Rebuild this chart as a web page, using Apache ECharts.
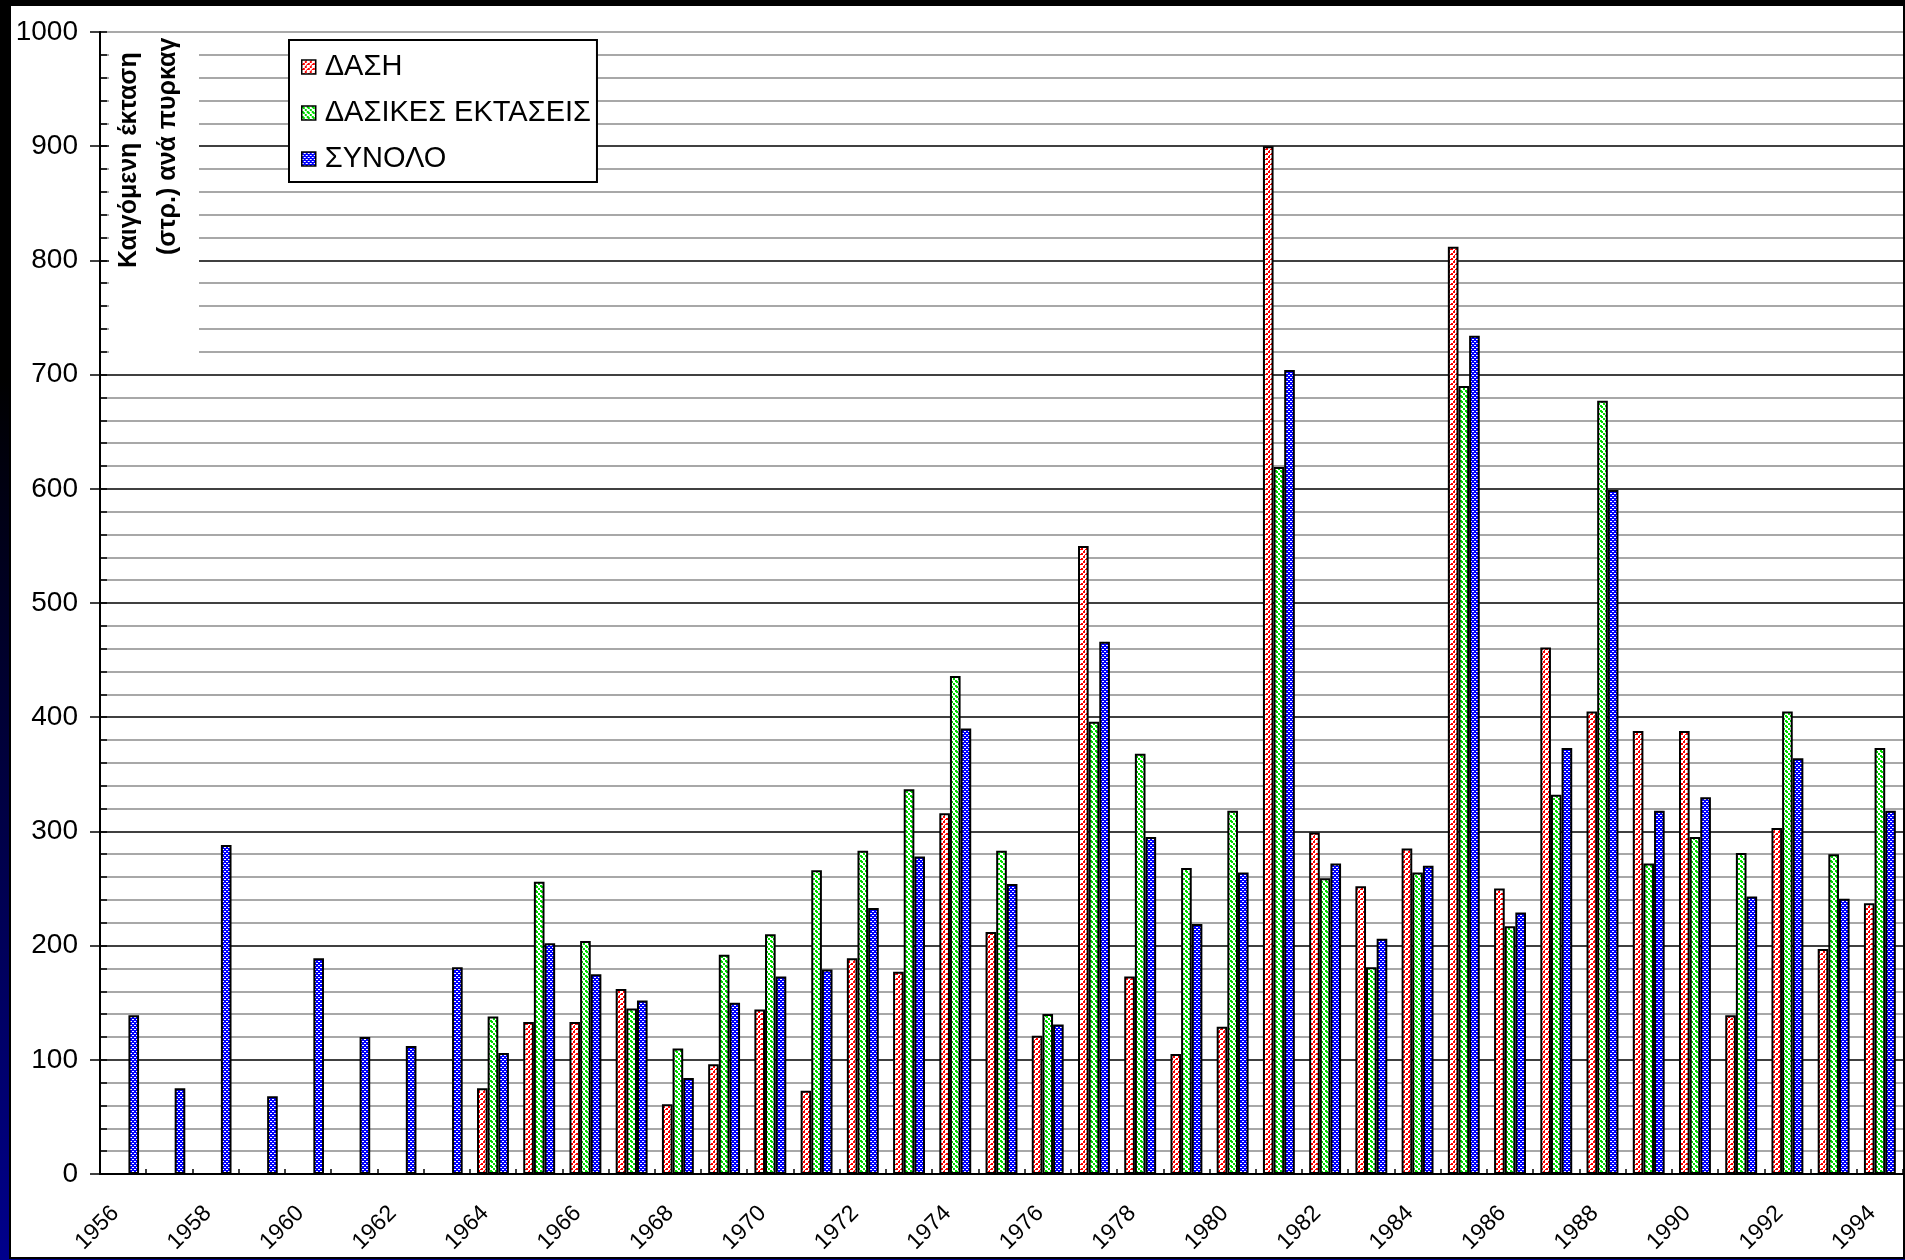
<!DOCTYPE html>
<html>
<head>
<meta charset="utf-8">
<title>Καιγόμενη έκταση ανά πυρκαγιά</title>
<script src="https://cdn.jsdelivr.net/npm/echarts@6.0.0/dist/echarts.min.js"></script>
<style>
  html, body { margin: 0; padding: 0; }
  body {
    width: 1905px; height: 1260px; overflow: hidden; position: relative;
    background: linear-gradient(to bottom, #000 0%, #000 30%, #00008c 100%);
  }
  .frame {
    position: absolute; left: 9px; top: 4px; width: 1896px; height: 1255px;
    box-sizing: border-box; border: 2px solid #000; background: #fff;
  }
  #chart { position: absolute; left: 0; top: 0; width: 1905px; height: 1260px; }
</style>
</head>
<body>
<div class="frame"></div>
<div id="chart"></div>
<script>
var years = ["1956", "1957", "1958", "1959", "1960", "1961", "1962", "1963", "1964", "1965",
  "1966", "1967", "1968", "1969", "1970", "1971", "1972", "1973", "1974", "1975",
  "1976", "1977", "1978", "1979", "1980", "1981", "1982", "1983", "1984", "1985",
  "1986", "1987", "1988", "1989", "1990", "1991", "1992", "1993", "1994"];

var seriesNames = ["ΔΑΣΗ", "ΔΑΣΙΚΕΣ ΕΚΤΑΣΕΙΣ", "ΣΥΝΟΛΟ"];

// ΔΑΣΗ
var dasi = [null, null, null, null, null, null, null, null, 75, 133,
  133, 162, 61, 96, 144, 73, 189, 177, 316, 212,
  121, 550, 173, 105, 129, 900, 299, 252, 285, 812,
  250, 461, 405, 388, 388, 139, 303, 197, 237];

// ΔΑΣΙΚΕΣ ΕΚΤΑΣΕΙΣ
var dasikes = [null, null, null, null, null, null, null, null, 138, 256,
  204, 145, 110, 192, 210, 266, 283, 337, 436, 283,
  140, 396, 368, 268, 318, 619, 259, 181, 264, 690,
  217, 332, 677, 272, 295, 281, 405, 280, 373];

// ΣΥΝΟΛΟ
var synolo = [139, 75, 288, 68, 189, 120, 112, 181, 106, 202,
  175, 152, 84, 150, 173, 179, 233, 278, 390, 254,
  131, 466, 295, 219, 264, 704, 272, 206, 270, 734,
  229, 373, 599, 318, 330, 243, 364, 241, 318];

var yMin = 0, yMax = 1000, yStep = 100, yMinorStep = 20;

var axisTitle = ["Καιγόμενη έκταση", "(στρ.) ανά πυρκαγιά"];

var FONT = '"Liberation Sans", Arial, sans-serif';
var TITLE_FONT = 'bold 25px ' + FONT;

// μοτίβα γεμίσματος (σαν τα pattern του Excel)
function diagPattern(color, up) {
  var n = 5;
  var c = document.createElement('canvas');
  c.width = n; c.height = n;
  var g = c.getContext('2d');
  g.fillStyle = '#fff';
  g.fillRect(0, 0, n, n);
  g.fillStyle = color;
  [0, 1, 3, 4].forEach(function (k) {
    var y = up ? n - 1 - k : k;
    g.fillRect(k, y, 2, 2);
  });
  return { image: c, repeat: 'repeat' };
}
function dotPattern(color) {
  var c = document.createElement('canvas');
  c.width = 4; c.height = 4;
  var g = c.getContext('2d');
  g.fillStyle = '#fff';
  g.fillRect(0, 0, 4, 4);
  g.fillStyle = color;
  g.fillRect(0, 0, 2, 3);
  g.fillRect(2, 2, 2, 2);
  g.fillRect(2, 0, 2, 1);
  return { image: c, repeat: 'repeat' };
}

var fills = [diagPattern('#ff0000', true), diagPattern('#00dd00', false), dotPattern('#0000ff')];
var values = [dasi, dasikes, synolo];

// η γραμμή στο 1000 είναι γκρι, οι υπόλοιπες μαύρες
var majorColors = [];
for (var v = yMin; v < yMax; v += yStep) majorColors.push('#000');
majorColors.push('#8c8c8c');

var myChart = echarts.init(document.getElementById('chart'));

var option = {
  animation: false,
  backgroundColor: 'transparent',
  textStyle: { fontFamily: FONT },
  grid: { left: 100, right: 2, top: 32, bottom: 86, containLabel: false, outerBoundsMode: 'none' },
  legend: {
    orient: 'vertical',
    left: 289,
    top: 40,
    padding: [12, 6, 8, 12],
    backgroundColor: '#fff',
    borderColor: '#000',
    borderWidth: 2,
    borderRadius: 0,
    itemWidth: 14,
    itemHeight: 14,
    itemGap: 16,
    icon: 'rect',
    itemStyle: { borderColor: '#000', borderWidth: 1.5 },
    textStyle: { fontFamily: FONT, fontSize: 29, color: '#000', lineHeight: 30, padding: [0, 0, 0, 4] },
    data: seriesNames
  },
  xAxis: {
    type: 'category',
    data: years,
    boundaryGap: true,
    axisLine: { show: true, lineStyle: { color: '#000', width: 2 } },
    axisTick: { show: true, interval: 0, inside: true, length: 5, lineStyle: { color: '#000', width: 1.5 } },
    axisLabel: {
      interval: 1,
      rotate: 45,
      fontFamily: FONT,
      fontSize: 23,
      color: '#000',
      margin: 28,
      padding: [0, 11, 0, 0]
    },
    splitLine: { show: false }
  },
  yAxis: [
    {
      type: 'value',
      min: yMin,
      max: yMax,
      interval: yStep,
      z: 1,
      axisLine: { show: true, lineStyle: { color: '#000', width: 2 } },
      axisTick: { show: true, inside: false, length: 10, lineStyle: { color: '#000', width: 1.5 } },
      axisLabel: {
        fontFamily: FONT, fontSize: 28, color: '#000', margin: 22,
        formatter: function (val) { return String(val); }
      },
      splitLine: { show: true, lineStyle: { color: majorColors, width: 1.5 } },
      minorTick: { show: false, splitNumber: yStep / yMinorStep },
      minorSplitLine: { show: true, lineStyle: { color: '#8c8c8c', width: 1.5 } }
    },
    {
      // μόνο για τα μικρά tick μέσα στον άξονα
      type: 'value',
      position: 'left',
      offset: 0,
      min: yMin,
      max: yMax,
      interval: yMinorStep,
      z: 2,
      axisLine: { show: false },
      axisTick: { show: true, inside: true, length: 7, lineStyle: { color: '#000', width: 1.5 } },
      axisLabel: { show: false },
      splitLine: { show: false }
    }
  ],
  series: values.map(function (d, i) {
    return {
      name: seriesNames[i],
      type: 'bar',
      data: d,
      yAxisIndex: 0,
      barGap: '0%',
      barCategoryGap: '31%',
      itemStyle: { color: fills[i], borderColor: '#000', borderWidth: 2 },
      emphasis: { disabled: true }
    };
  }),
  graphic: [
    {
      // λευκό πλαίσιο του τίτλου του άξονα
      type: 'rect',
      z: 50,
      silent: true,
      shape: { x: 109, y: 34, width: 90, height: 322 },
      style: { fill: '#fff' }
    }
  ]
};

myChart.setOption(option);

// τίτλος άξονα y, κομμένος στο πάνω μέρος όπως στο πρωτότυπο
var zr = myChart.getZr();
var titleGroup = new echarts.graphic.Group({ silent: true });
titleGroup.setClipPath(new echarts.graphic.Rect({ shape: { x: 109, y: 38, width: 90, height: 318 } }));
[[129, 268], [168, 255]].forEach(function (p, i) {
  titleGroup.add(new echarts.graphic.Text({
    x: p[0],
    y: p[1],
    rotation: Math.PI / 2,
    z: 60,
    silent: true,
    style: {
      text: axisTitle[i],
      font: TITLE_FONT,
      fill: '#000',
      align: 'left',
      verticalAlign: 'middle'
    }
  }));
});
zr.add(titleGroup);
</script>
</body>
</html>
